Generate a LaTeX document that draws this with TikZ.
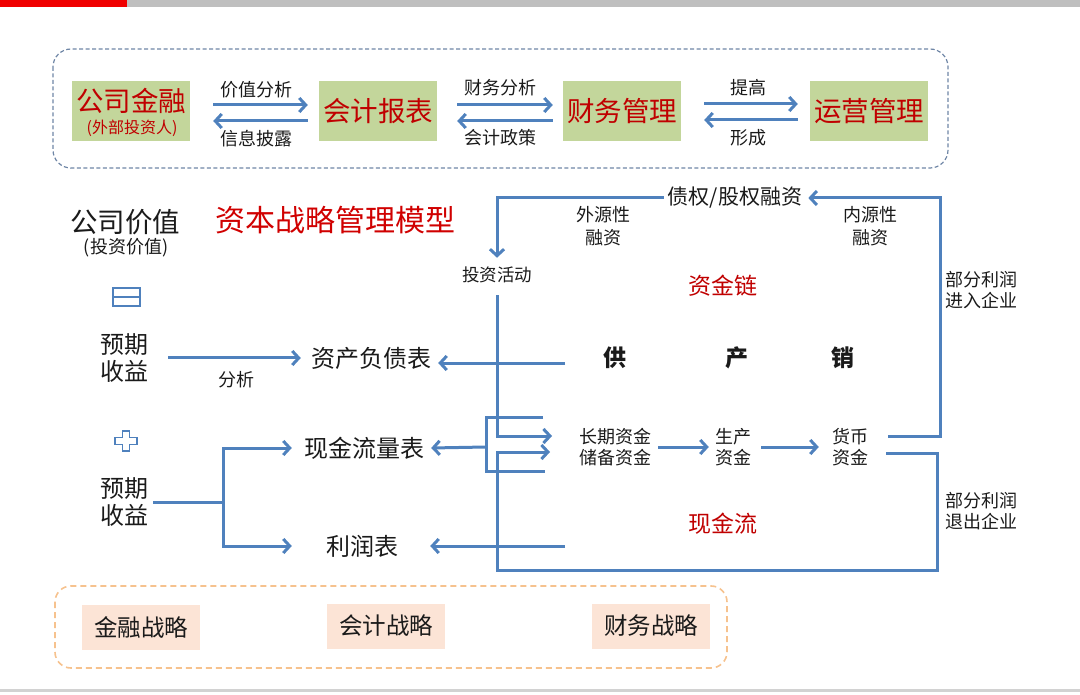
\documentclass[tikz,border=0pt]{standalone}
\usepackage{fontspec}
\setmainfont{Noto Sans CJK SC}
\usetikzlibrary{arrows.meta,calc}
\definecolor{abl}{HTML}{4F81BD}
\definecolor{dred}{HTML}{C00000}
\definecolor{tred}{HTML}{D00000}
\definecolor{gbox}{HTML}{C3D69B}
\definecolor{pbox}{HTML}{FCE4D6}
\definecolor{frameblue}{HTML}{6F86A6}
\definecolor{frameorange}{HTML}{F6C28E}
\definecolor{txt}{HTML}{1A1A1A}
\definecolor{topgray}{HTML}{BFBFBF}
\definecolor{topred}{HTML}{F00000}
\newcommand\fsz[2]{\fontsize{#1pt}{#2pt}\selectfont}
\begin{document}
\begin{tikzpicture}[x=1pt,y=-1pt,
  every node/.style={inner sep=0pt, text=txt},
  ln/.style={draw=abl, line width=3pt},
  flow/.style={ln, -{Straight Barb[length=6.5pt,width=14pt]}},
  gb/.style={fill=gbox, minimum width=118pt, minimum height=60pt},
  pb/.style={fill=pbox, minimum width=118pt, minimum height=45pt, font=\fsz{23.5}{27}},
  bigred/.style={text=dred, font=\fsz{27.5}{30}},
  lab/.style={font=\fsz{18}{21}},
  mid/.style={font=\fsz{18}{21}, align=center},
  big/.style={font=\fsz{24}{27}, align=center},
]
\useasboundingbox (0,0) rectangle (1080,695);
% top bar and bottom line
\fill[topred] (0,0) rectangle (127,7);
\fill[topgray] (127,0) rectangle (1080,7);
\fill[topgray!70] (0,689) rectangle (1080,692);

% top frame
\draw[draw=frameblue, line width=1.2pt, dash pattern=on 4pt off 2.5pt, rounded corners=18pt] (53,49) rectangle (948,168);
\node[gb] (gsjr) at (131,111) {};
\node[bigred] (gsjrt) at (131,101) {公司金融};
\node[text=dred, font=\fsz{16}{18}] (wbtzr) at (132,128) {(外部投资人)};
\node[gb,bigred] (kjbb) at (378,111) {会计报表};
\node[gb,bigred] (cwgl) at (622,111) {财务管理};
\node[gb,bigred] (yygl) at (869,111) {运营管理};

\draw[flow] ($(gsjr.east)+(23,-6)$) -- ($(kjbb.west)+(-11,-6)$);
\draw[flow] ($(kjbb.west)+(-11,10)$) -- ($(gsjr.east)+(23,10)$);
\draw[flow] ($(kjbb.east)+(20,-6)$) -- ($(cwgl.west)+(-10,-6)$);
\draw[flow] ($(cwgl.west)+(-10,10)$) -- ($(kjbb.east)+(20,10)$);
\draw[flow] ($(cwgl.east)+(23,-7)$) -- ($(yygl.west)+(-12,-7)$);
\draw[flow] ($(yygl.west)+(-12,9)$) -- ($(cwgl.east)+(23,9)$);
\node[lab] (jzfx) at (256,90) {价值分析};
\node[lab] (xxpl) at (256,139) {信息披露};
\node[lab] (cwfx) at (500,88) {财务分析};
\node[lab] (kjzc) at (500,138) {会计政策};
\node[lab] (tg) at (748,88) {提高};
\node[lab] (xc) at (748,138) {形成};

% left column
\node[font=\fsz{27.5}{30}] (gsjz) at (125,222) {公司价值};
\node[font=\fsz{18}{20}] (tzjz) at (126,248) {(投资价值)};
\node[text=tred, font=\fsz{30}{33}] (title) at (335,220) {资本战略管理模型};
\draw[abl, line width=2pt] (113,288) rectangle (140,306);
\draw[abl, line width=2pt] (113,297) -- (140,297);
\node[big] (yq1) at (124,358) {预期\\收益};
\node[lab] (fx) at (236,380) {分析};
\node[font=\fsz{24}{26}] (zcfzb) at (371,358) {资产负债表};
\draw[flow] ($(yq1.east)+(20,0)$) -- ($(zcfzb.west)+(-10,0)$);

\draw[abl, line width=1.8pt] (122.5,431) -- (129.5,431) -- (129.5,437.5) -- (137,437.5) -- (137,444.5) -- (129.5,444.5) -- (129.5,451) -- (122.5,451) -- (122.5,444.5) -- (115,444.5) -- (115,437.5) -- (122.5,437.5) -- cycle;
\node[big] (yq2) at (124,502) {预期\\收益};
\node[font=\fsz{24}{26}] (xjllb) at (364,448) {现金流量表};
\node[font=\fsz{24}{26}] (lrb) at (362,546) {利润表};
\coordinate (fork) at (223,502);
\draw[ln] ($(yq2.east)+(5,0)$) -- (fork);
\draw[flow] (fork) |- ($(xjllb.west)+(-12,0)$);
\draw[flow] (fork) |- ($(lrb.west)+(-34,0)$);

% centre
\node[font=\fsz{21}{24}] (zqgq) at (735,198) {债权/股权融资};
\node[font=\fsz{17.5}{20}] (tzhd) at (497,275) {投资活动};
\draw[flow] ($(zqgq.west)+(-4,0)$) -| ($(tzhd.north)+(0,-9)$);
\node[mid, font=\fsz{18}{23}] (wyx) at (603,226) {外源性\\融资};
\node[mid, font=\fsz{18}{23}] (nyx) at (870,226) {内源性\\融资};
\node[text=dred, font=\fsz{23}{26}] (zjl) at (723,286) {资金链};
\node[font=\fsz{23}{26}\bfseries] (gong) at (615,358) {供};
\node[font=\fsz{23}{26}\bfseries] (chan) at (737,358) {产};
\node[font=\fsz{23}{26}\bfseries] (xiao) at (843,358) {销};

\node[mid] (cqzj) at (615,447) {长期资金\\储备资金};
\node[mid] (sczj) at (733,447) {生产\\资金};
\node[mid] (hbzj) at (850,447) {货币\\资金};
\draw[flow] ($(cqzj.east)+(7,0)$) -- ($(sczj.west)+(-6,0)$);
\draw[flow] ($(sczj.east)+(10,0)$) -- ($(hbzj.west)+(-13,0)$);

\node[text=dred, font=\fsz{23}{26}] (xjl) at (723,524) {现金流};
\node[mid] (jrqy) at (981,290) {部分利润\\进入企业};
\node[mid] (tcqy) at (981,511) {部分利润\\退出企业};

% loops
\coordinate (up1) at (888,436);
\coordinate (up2) at (940,198);
\draw[flow] (up1) -- (940,436) -- (up2) -- ($(zqgq.east)+(6,0)$);
\coordinate (dn1) at (886,453);
\coordinate (dn2) at (937,570);
\draw[flow] (dn1) -- (937,453) -- (dn2) -- (497,570) -- (497,452) -- (550,452);
\draw[flow] ($(tzhd.south)+(0,12)$) -- (497,436) -- (552,436);
% bracket
\draw[ln] (543,417) -- (486,417) -- (486,471) -- (545,471);
\draw[flow] (486,447) -- ($(xjllb.east)+(7,0)$);
\coordinate (g1) at (565,363);
\draw[flow] (g1) -- ($(zcfzb.east)+(7,5)$);
\coordinate (g2) at (565,546);
\draw[flow] (g2) -- ($(lrb.east)+(32,0)$);

% bottom frame
\draw[draw=frameorange, line width=1.6pt, dash pattern=on 6pt off 4pt, rounded corners=16pt] (55,586) rectangle (727,668);
\node[pb] (jrzl) at (141,627) {金融战略};
\node[pb] (kjzl) at (386,626) {会计战略};
\node[pb] (cwzl) at (651,626) {财务战略};
\end{tikzpicture}
\end{document}
